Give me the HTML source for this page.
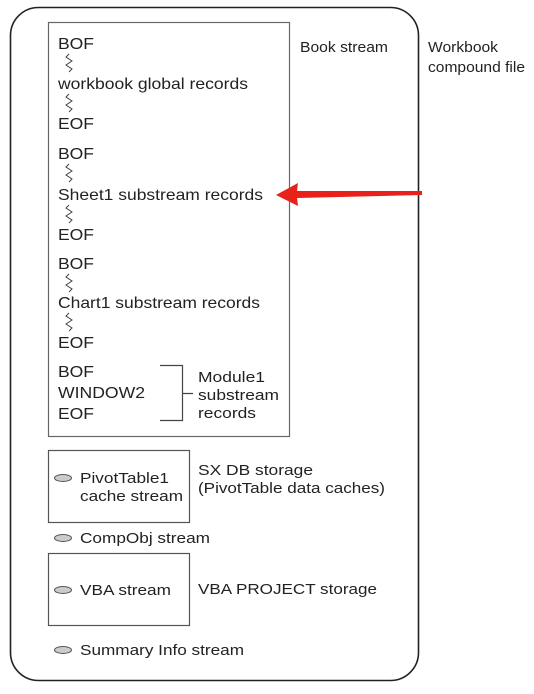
<!DOCTYPE html>
<html><head><style>
html,body{margin:0;padding:0;background:#fff;}
svg text{font-family:"Liberation Sans",sans-serif;fill:#222;}
</style></head><body>
<svg width="534" height="689" viewBox="0 0 534 689" xmlns="http://www.w3.org/2000/svg">
<defs>
<path id="sq" d="M0,0 l-3,3 l6,4 l-6,4 l6,4 l-3,3" fill="none" stroke="#444" stroke-width="1"/>
</defs>
<rect x="10.5" y="7.5" width="408" height="673" rx="28" fill="none" stroke="#222" stroke-width="1.6"/>
<rect x="48.5" y="22.5" width="241" height="414" fill="none" stroke="#666" stroke-width="1.2"/>
<rect x="48.5" y="450.5" width="141" height="72" fill="none" stroke="#555" stroke-width="1.2"/>
<rect x="48.5" y="553.5" width="141" height="72" fill="none" stroke="#555" stroke-width="1.2"/>
<g font-size="16" lengthAdjust="spacingAndGlyphs">
<text x="58" y="49" textLength="36" lengthAdjust="spacingAndGlyphs">BOF</text>
<text x="58" y="89" textLength="190" lengthAdjust="spacingAndGlyphs">workbook global records</text>
<text x="58" y="129" textLength="36" lengthAdjust="spacingAndGlyphs">EOF</text>
<text x="58" y="159" textLength="36" lengthAdjust="spacingAndGlyphs">BOF</text>
<text x="58" y="200" textLength="205" lengthAdjust="spacingAndGlyphs">Sheet1 substream records</text>
<text x="58" y="240" textLength="36" lengthAdjust="spacingAndGlyphs">EOF</text>
<text x="58" y="269" textLength="36" lengthAdjust="spacingAndGlyphs">BOF</text>
<text x="58" y="308" textLength="202" lengthAdjust="spacingAndGlyphs">Chart1 substream records</text>
<text x="58" y="348" textLength="36" lengthAdjust="spacingAndGlyphs">EOF</text>
<text x="58" y="377" textLength="36" lengthAdjust="spacingAndGlyphs">BOF</text>
<text x="58" y="398" textLength="87" lengthAdjust="spacingAndGlyphs">WINDOW2</text>
<text x="58" y="419" textLength="36" lengthAdjust="spacingAndGlyphs">EOF</text>
</g>
<use href="#sq" x="69" y="54"/>
<use href="#sq" x="69" y="94"/>
<use href="#sq" x="69" y="164"/>
<use href="#sq" x="69" y="205"/>
<use href="#sq" x="69" y="274"/>
<use href="#sq" x="69" y="313"/>
<path d="M160,365.5 H182.5 V420.5 H160 M182.5,393.5 H193" fill="none" stroke="#444" stroke-width="1.2"/>
<g font-size="15">
<text x="198" y="382" textLength="67" lengthAdjust="spacingAndGlyphs">Module1</text>
<text x="198" y="400" textLength="81" lengthAdjust="spacingAndGlyphs">substream</text>
<text x="198" y="418" textLength="58" lengthAdjust="spacingAndGlyphs">records</text>
<text x="300" y="52" textLength="88" lengthAdjust="spacingAndGlyphs">Book stream</text>
<text x="428" y="52" textLength="70" lengthAdjust="spacingAndGlyphs">Workbook</text>
<text x="428" y="72" textLength="97" lengthAdjust="spacingAndGlyphs">compound file</text>
<text x="80" y="483" textLength="89" lengthAdjust="spacingAndGlyphs">PivotTable1</text>
<text x="80" y="501" textLength="103" lengthAdjust="spacingAndGlyphs">cache stream</text>
<text x="198" y="475" textLength="115" lengthAdjust="spacingAndGlyphs">SX DB storage</text>
<text x="198" y="493" textLength="187" lengthAdjust="spacingAndGlyphs">(PivotTable data caches)</text>
<text x="80" y="543" textLength="130" lengthAdjust="spacingAndGlyphs">CompObj stream</text>
<text x="80" y="595" textLength="91" lengthAdjust="spacingAndGlyphs">VBA stream</text>
<text x="198" y="594" textLength="179" lengthAdjust="spacingAndGlyphs">VBA PROJECT storage</text>
<text x="80" y="655" textLength="164" lengthAdjust="spacingAndGlyphs">Summary Info stream</text>
</g>
<g fill="#ccc" stroke="#555" stroke-width="1">
<ellipse cx="63" cy="478" rx="8.5" ry="3.5"/>
<ellipse cx="63" cy="538" rx="8.5" ry="3.5"/>
<ellipse cx="63" cy="590" rx="8.5" ry="3.5"/>
<ellipse cx="63" cy="650" rx="8.5" ry="3.5"/>
</g>
<path d="M276,195 L298,183 L297,191 L422,191 L422,195 L297,198 L298,206 Z" fill="#e8211b"/>
</svg>
</body></html>
